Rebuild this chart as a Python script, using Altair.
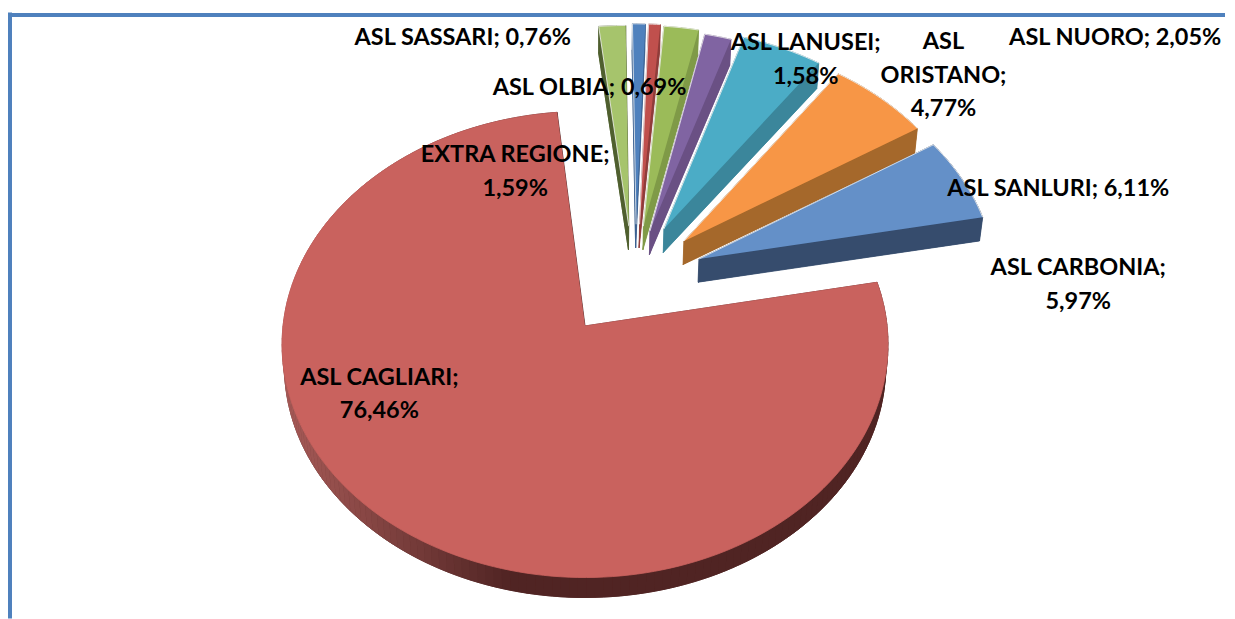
import math
import altair as alt
import pandas as pd

# Data, in the chart's clockwise order from 12 o'clock
names = ["ASL SASSARI", "ASL OLBIA", "ASL NUORO", "ASL LANUSEI", "ASL ORISTANO",
         "ASL SANLURI", "ASL CARBONIA", "ASL CAGLIARI", "EXTRA REGIONE"]
values = [0.76, 0.69, 2.05, 1.58, 4.77, 6.11, 5.97, 76.46, 1.59]
top_colors = ["#4F81BD", "#C0504D", "#9BBB59", "#8064A2", "#4BACC6",
              "#F79646", "#6490C8", "#C9625E", "#A6C46C"]
side_colors = ["#3B6190", "#8F3C3A", "#7F9A47", "#6A5084", "#3B869B",
               "#A5682B", "#364C6D", "#502423", "#4F5F2F"]
edge_colors = ["#F4F4F4", "#F4F4F4", "#F4F4F4", "#F4F4F4", "#F4F4F4",
               "#F4F4F4", "#F4F4F4", "#C9625E", "#F4F4F4"]
# How far each slice is pulled out of the pie, in pie radii (right, away from viewer)
pull_right = [0.175, 0.187, 0.200, 0.222, 0.270, 0.337, 0.386, 0.0, 0.150]
pull_back = [0.455, 0.455, 0.446, 0.423, 0.433, 0.377, 0.296, 0.0, 0.446]
# How each label is laid out
label_breaks = [" ", " ", " ", "\n", "\n", " ", "\n", "\n", "\n"]
label_x = [463.5, 590.5, 1117, 807, 945, 1060, 1080, 380, 516]
label_y = [38, 88, 38, 43, 42, 189, 268, 378, 155]

W, H = 1219, 611
CX, CY, RX, RY, PERSP = 586.0, 326.0, 302.5, 232.0, 0.0792


def project(u, v):
    d = 1 + PERSP * v
    return CX + RX * u / d, CY - RY * v / d


def lower(u, v):
    x, y = project(u, v)
    return CX + (x - CX) * 0.992, y + 22.5 + 2.5 * v


def mix(a, b, t):
    ca = [int(a[i:i + 2], 16) for i in (1, 3, 5)]
    cb = [int(b[i:i + 2], 16) for i in (1, 3, 5)]
    return "#" + "".join(f"{round(p + (q - p) * t):02x}" for p, q in zip(ca, cb))


wall_rows, top_rows = [], []
pid = 0


def add(rows, pts, color, edge=None):
    global pid
    pid += 1
    for k, (x, y) in enumerate(pts):
        rows.append({"pid": pid, "ord": k, "x": round(x, 2), "y": round(y, 2),
                     "fill": color, "edge": edge or color})


total = 0.0
spans = []
for val in values:
    spans.append((total, total + val))
    total += val
scale = 360.0 / total

draw_order = [8, 0, 1, 2, 3, 4, 5, 6, 7]
for i in draw_order:
    a0, a1 = spans[i][0] * scale, spans[i][1] * scale
    n = max(3, int((a1 - a0) / 1.5))
    u0, v0 = pull_right[i], pull_back[i]
    rim = []
    for k in range(n + 1):
        t = math.radians(a0 + (a1 - a0) * k / n)
        rim.append((u0 + math.sin(t), v0 + math.cos(t)))
    ring = [(u0, v0)] + rim
    # bottom face and walls
    add(wall_rows, [lower(*p) for p in ring], side_colors[i])
    for k in range(len(ring)):
        p, q = ring[k], ring[(k + 1) % len(ring)]
        color = side_colors[i]
        if i == 7:
            # the large slice's rim brightens towards the left
            xm = project((p[0] + q[0]) / 2, (p[1] + q[1]) / 2)[0]
            color = mix("#A85B58", side_colors[i], min(1, max(0, (xm - 281) / 230)))
        add(wall_rows, [project(*p), project(*q), lower(*q), lower(*p)], color)
    add(top_rows, [project(*p) for p in ring], top_colors[i], edge_colors[i])

walls = pd.DataFrame(wall_rows)
tops = pd.DataFrame(top_rows)

x_scale = alt.Scale(domain=[8, 8 + W], range=[0, W], nice=False, zero=False)
y_scale = alt.Scale(domain=[8 + H, 8], nice=False, zero=False)
X = alt.X("x:Q", scale=x_scale, axis=None)
Y = alt.Y("y:Q", scale=y_scale, axis=None)

wall_layer = alt.Chart(walls).mark_line(strokeWidth=0.8, strokeJoin="round").encode(
    x=X, y=Y, order="ord:Q", detail="pid:N",
    fill=alt.Fill("fill:N", scale=None), stroke=alt.Stroke("fill:N", scale=None),
)
top_layer = alt.Chart(tops).mark_line(strokeWidth=0.8, strokeJoin="round").encode(
    x=X, y=Y, order="ord:Q", detail="pid:N",
    fill=alt.Fill("fill:N", scale=None), stroke=alt.Stroke("edge:N", scale=None),
)

frame = pd.DataFrame({"x": [10, 10], "x2": [10, 8 + W], "y": [12, 14.5], "y2": [8 + H, 14.5]})
frame_layer = alt.Chart(frame).mark_rule(color="#4F81BD", strokeWidth=4).encode(
    x=X, x2="x2:Q", y=Y, y2="y2:Q",
)

labels = pd.DataFrame({
    "text": [
        ("ASL\nORISTANO" if n == "ASL ORISTANO" else n) + ";" + b + f"{v:.2f}".replace(".", ",") + "%"
        for n, v, b in zip(names, values, label_breaks)
    ],
    "x": label_x,
    "y": label_y,
})
text_layer = alt.Chart(labels).mark_text(
    font="Lato", fontWeight="bold", fontSize=23.5, color="#000000",
    align="center", baseline="middle", lineBreak="\n", lineHeight=33.5,
).encode(x=X, y=Y, text="text:N")

chart = alt.layer(wall_layer, top_layer, frame_layer, text_layer).properties(
    width=W, height=H, padding=0, background="#FFFFFF",
).configure_view(stroke=None)

chart.save("out.html", embed_options={"renderer": "svg", "actions": False})
